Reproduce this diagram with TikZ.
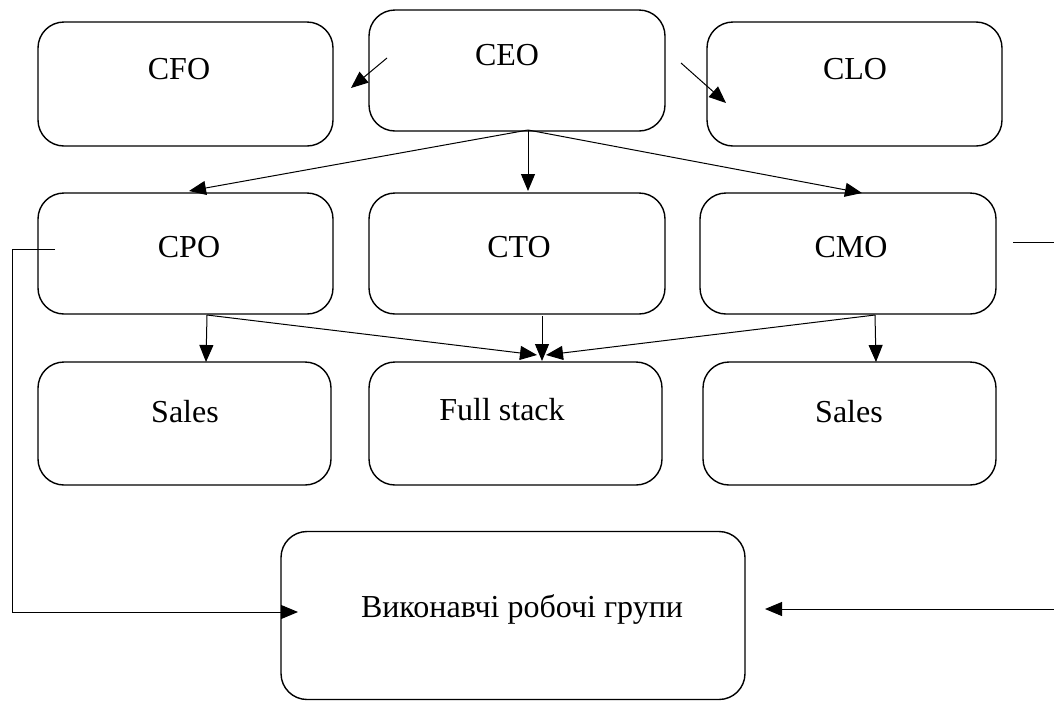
\documentclass[tikz,border=0pt]{standalone}
\usepackage{fontspec}
\setmainfont{Liberation Serif}
\usetikzlibrary{arrows.meta}
\begin{document}
\begin{tikzpicture}[x=1pt,y=-1pt,
  box/.style={draw=black,line width=1.4pt,rounded corners=26pt,minimum width=#1,inner sep=0pt},
  lbl/.style={anchor=base,inner sep=0pt,font=\fontsize{32}{38}\selectfont},
  conn/.style={line width=1pt,-{Triangle[length=17pt,width=14pt]}},
  plain/.style={line width=1pt}]
\fill[white] (0,0) rectangle (1054,702);
\useasboundingbox (0,0) rectangle (1054,702);
% boxes
\node[box=295pt,minimum height=124pt] (cfo) at (185.5,84) {};
\node[box=296pt,minimum height=121pt] (ceo) at (517,70.5) {};
\node[box=295pt,minimum height=124pt] (clo) at (854.5,84) {};
\node[box=295pt,minimum height=121pt] (cpo) at (185.5,253.5) {};
\node[box=296pt,minimum height=121pt] (cto) at (517,253.5) {};
\node[box=296pt,minimum height=121pt] (cmo) at (848,253.5) {};
\node[box=293pt,minimum height=123pt] (sales1) at (184.5,423.5) {};
\node[box=293pt,minimum height=123pt] (full) at (515.5,423.5) {};
\node[box=293pt,minimum height=123pt] (sales2) at (849.5,423.5) {};
\node[box=464pt,minimum height=168pt] (grp) at (513,615.5) {};
% labels
\node[lbl] (cfoT) at (179,79) {CFO};
\node[lbl] (ceoT) at (507,65) {CEO};
\node[lbl] (cloT) at (855,79) {CLO};
\node[lbl] (cpoT) at (189,257.5) {CPO};
\node[lbl] (ctoT) at (519,257.5) {CTO};
\node[lbl] (cmoT) at (851,257.5) {CMO};
\node[lbl] (sales1T) at (185,422) {Sales};
\node[lbl] (fullT) at (502,420) {Full stack};
\node[lbl] (sales2T) at (849,422) {Sales};
\node[lbl] (grpT) at (522,617) {Виконавчі робочі групи};
% connector points
\coordinate (ceoL) at (387,58);
\coordinate (cfoTip) at (351,88);
\coordinate (ceoR) at (681,63);
\coordinate (cloTip) at (726,103);
\coordinate (ceoB) at (528,130);
\coordinate (cpoTip) at (189,191);
\coordinate (ctoTip) at (528,191);
\coordinate (cmoTip) at (862,193);
\coordinate (cpoB) at (207,315);
\coordinate (ctoB) at (542,316);
\coordinate (cmoB) at (875,315);
\coordinate (s1Tip) at (206,362);
\coordinate (fullTipL) at (537,355);
\coordinate (fullTip) at (542,361);
\coordinate (fullTipR) at (546,355);
\coordinate (s2Tip) at (876,362);
\coordinate (cpoIn) at (55,249);
\coordinate (lc1) at (12,249);
\coordinate (lc2) at (12,612);
\coordinate (grpTipL) at (298,612);
\coordinate (cmoOut) at (1013,242);
\coordinate (edgeR) at (1054,242);
\coordinate (edgeR2) at (1054,609);
\coordinate (grpTipR) at (765,609);
% connectors
\draw[conn] (ceoL) -- (cfoTip);
\draw[conn] (ceoR) -- (cloTip);
\draw[conn] (ceoB) -- (cpoTip);
\draw[conn] (ceoB) -- (ctoTip);
\draw[conn] (ceoB) -- (cmoTip);
\draw[conn] (cpoB) -- (s1Tip);
\draw[conn] (cpoB) -- (fullTipL);
\draw[conn] (ctoB) -- (fullTip);
\draw[conn] (cmoB) -- (fullTipR);
\draw[conn] (cmoB) -- (s2Tip);
\draw[conn] (cpoIn) -- (lc1) -- (lc2) -- (grpTipL);
\draw[plain] (cmoOut) -- (edgeR);
\draw[conn] (edgeR2) -- (grpTipR);
\end{tikzpicture}
\end{document}
